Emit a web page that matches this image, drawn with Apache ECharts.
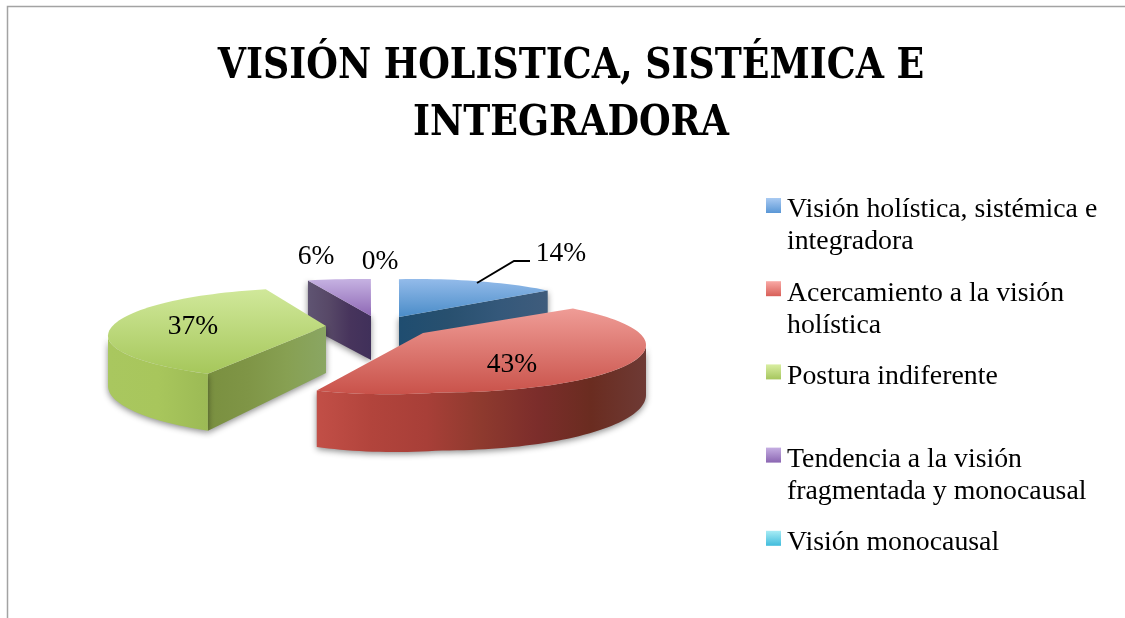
<!DOCTYPE html>
<html><head><meta charset="utf-8">
<style>html,body{margin:0;padding:0;background:#fff}#c{width:1125px;height:618px}</style>
<script src="https://cdn.jsdelivr.net/npm/echarts@6/dist/echarts.min.js"></script>
</head><body><div id="c"></div>
<script>
var titleText = 'VISIÓN HOLISTICA, SISTÉMICA E\nINTEGRADORA';
var categories = ['Visión holística, sistémica e\nintegradora','Acercamiento a la visión\nholística','Postura indiferente','Tendencia a la visión\nfragmentada y monocausal','Visión monocausal'];
var percentValues = [13.6, 42.6, 37.4, 6.4, 0];

var G = echarts.graphic;
function vgrad(a,b){return new G.LinearGradient(0,0,0,1,[{offset:0,color:a},{offset:1,color:b}]);}
function hgrad(cs){return new G.LinearGradient(0,0,1,0,cs.map(function(c,i){return {offset:i/(cs.length-1),color:c};}));}

// each exploded slice is seen under its own perspective: an ellipse plus a mapping of pie angle to ellipse angle
var sliceLook = [
 {ax:399,ay:317,cx:417.5,cy:329,rx:204.5,ryB:50,ryF:50,tL:0,phi0:-5.2,k:.914,D:46,Dk:0,D0:46,z:2,top:['#93bbea','#4a8cc8'],
  cut:'end',cutFill:['#1f4d70','#28506f','#34587a','#3f5c7c'],label:[561,254],leader:true},
 {ax:423,ay:333,cx:441.5,cy:345,rx:204.5,ryB:47.5,ryF:47.5,tL:13,phi0:-16.7,k:1.158,D:50,Dk:8,D0:46,z:4,top:['#ef9c96','#c9524a'],
  wall:[90,null],wallFill:['#c24f47','#b2443c','#a83f38','#8e3a2e','#7c2d2b','#6a2c20','#6e3a35'],label:[512,365]},
 {ax:326,ay:326,cx:313,cy:336,rx:205,ryB:48,ryF:44,tL:0,phi0:6.7,k:1.009,D:50,Dk:8,D0:47,z:3,top:['#d0e89a','#a6c75b'],
  wall:[null,270],wallFill:['#a9c75f','#a8c65c','#9cba55'],
  cut:'start',cutFill:['#7a9040','#7f9546','#87a052','#8aa663'],label:[193,327]},
 {ax:371,ay:316,cx:358,cy:325,rx:205,ryB:46,ryF:46,tL:0,phi0:86.4,k:.77,D:46,Dk:0,D0:44,z:1,top:['#c6b2e2','#8e68b5'],
  cut:'start',cutFill:['#5f5472','#574867','#47345c','#40305a'],label:[316,257]},
 {ax:380,ay:290,cx:380,cy:290,rx:0,ryB:0,ryF:0,tL:0,phi0:0,k:1,D:0,Dk:0,D0:0,z:1,top:['#fff','#fff'],label:[380,262]}
];
var legendColors = [['#a9caf2','#5a97d6'],['#f9a9a5','#d85f58'],['#d9eea2','#a6c65e'],['#c5aee2','#8b66b2'],['#a8ecf5','#40bcdc']];

function ptPhi(g,phi,drop){
  var t=phi*Math.PI/180,s=Math.sin(t),c=Math.cos(t);
  var y=g.cy-(c>0?g.ryB:g.ryF)*c-(s<0?g.tL*s:0);
  return [g.cx+g.rx*s, y+(drop?g.D-g.Dk*c:0)];
}
function phiOf(g,deg){return g.phi0+g.k*deg;}
function arcPts(g,a,b,drop){var r=[],n=Math.max(2,Math.ceil(Math.abs(b-a)/2));for(var i=0;i<=n;i++)r.push(ptPhi(g,a+(b-a)*i/n,drop));return r;}
var shadow={shadowColor:'rgba(0,0,0,.45)',shadowBlur:6,shadowOffsetY:2};

function renderSlice(params,api){
  var i=params.dataIndex,g=sliceLook[i],v=api.value(0),start=0;
  for(var k=0;k<i;k++)start+=percentValues[k];
  var a=phiOf(g,start*3.6),b=phiOf(g,(start+v)*3.6),kids=[];
  if(v>0){
    if(g.cut){
      var d=g.cut==='end'?b:a;
      kids.push({type:'polygon',z2:g.z*10,shape:{points:[[g.ax,g.ay],ptPhi(g,d),ptPhi(g,d,true),[g.ax,g.ay+g.D0]]},
        style:Object.assign({fill:hgrad(g.cutFill)},shadow)});
    }
    if(g.wall){
      var w0=g.wall[0]===null?a:g.wall[0],w1=g.wall[1]===null?b:g.wall[1];
      var pts=arcPts(g,w0,w1,false).concat(arcPts(g,w1,w0,true));
      kids.push({type:'polygon',z2:g.z*10+1,shape:{points:pts},style:Object.assign({fill:hgrad(g.wallFill)},shadow)});
    }
    kids.push({type:'polygon',z2:g.z*10+2,shape:{points:[[g.ax,g.ay]].concat(arcPts(g,a,b,false))},
      style:{fill:vgrad(g.top[0],g.top[1])}});
  }
  if(g.leader){
    kids.push({type:'polyline',z2:90,shape:{points:[[477,283],[514,261],[530,261]]},style:{stroke:'#000',lineWidth:2,fill:null}});
  }
  kids.push({type:'text',z2:100,style:{text:Math.round(v)+'%',x:g.label[0],y:g.label[1],align:'center',verticalAlign:'middle',
    font:'27.5px "Liberation Serif"',fill:'#000'}});
  return {type:'group',children:kids};
}

var legendGraphics=[];
categories.forEach(function(c,i){
  var y=198+83.2*i;
  legendGraphics.push({type:'rect',left:766,top:y,shape:{width:15,height:15},style:{fill:vgrad(legendColors[i][0],legendColors[i][1])}});
  legendGraphics.push({type:'text',left:787,top:y-4,style:{text:c,font:'27.8px "Liberation Serif"',lineHeight:32,fill:'#000'}});
});
legendGraphics.push({type:'polyline',shape:{points:[[7.5,618],[7.5,6.5],[1125,6.5]]},style:{stroke:'#a3a3a3',lineWidth:1.5,fill:null}});
legendGraphics.push({type:'text',x:571,y:39,scaleX:.962,style:{text:titleText,x:0,y:0,align:'center',verticalAlign:'top',
  font:'bold 42px "DejaVu Serif Condensed"',lineHeight:57,fill:'#000'}});

var chart=echarts.init(document.getElementById('c'),null,{renderer:'canvas'});
chart.setOption({
  animation:false,backgroundColor:'#fff',
  graphic:legendGraphics,
  series:[{type:'custom',coordinateSystem:'none',clip:false,silent:true,data:percentValues.map(function(v){return [v];}),renderItem:renderSlice}]
});
</script></body></html>
